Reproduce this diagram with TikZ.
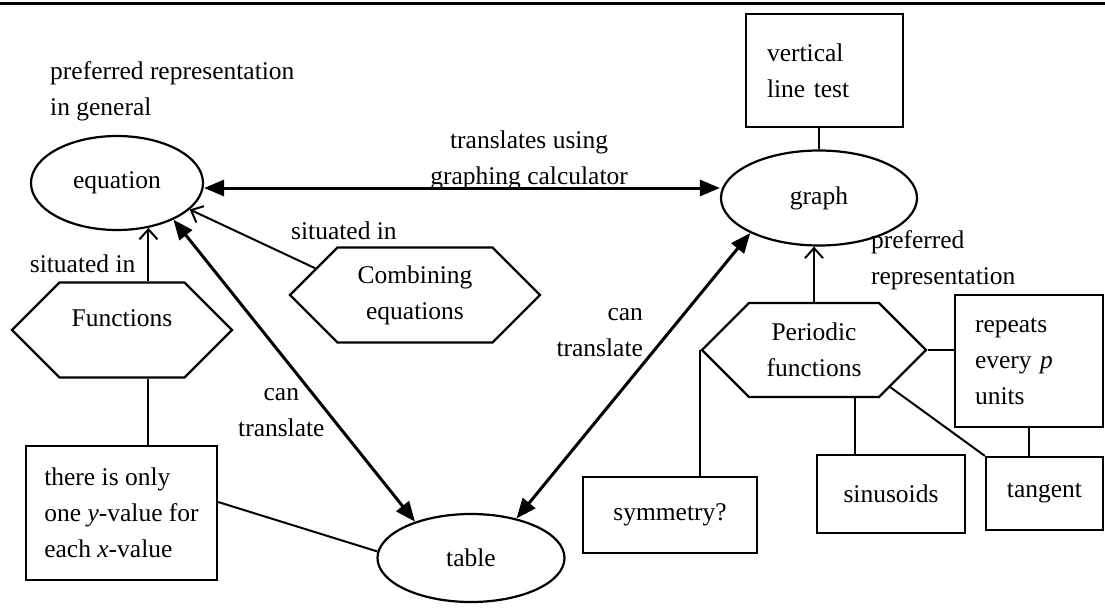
\documentclass[tikz,border=0pt]{standalone}
\usepackage{fontspec}
\setmainfont{Liberation Serif}
\usetikzlibrary{arrows.meta,shapes.geometric,shapes.symbols}

\begin{document}
\begin{tikzpicture}[x=1pt,y=-1pt,
  font=\fontsize{25.5}{36}\selectfont,
  oval/.style={draw,ellipse,line width=2.2pt,inner sep=0pt},
  card/.style={draw,rectangle,line width=2.2pt,inner sep=0pt},
  hexa/.style={draw,signal,signal to=west and east,signal pointer angle=90,line width=2.2pt,inner sep=0pt,align=center},
  link/.style={line width=2pt},
  twoway/.style={line width=3pt,{Triangle[length=20pt,width=16pt]}-{Triangle[length=20pt,width=16pt]}},
  situated/.style={line width=2pt,-{Straight Barb[length=10pt,width=18pt]}},
  lbl/.style={align=center,inner sep=2pt}]
 \useasboundingbox (0,0) rectangle (1105,608);
 \draw[line width=3pt] (0,3) -- (1105,3);

 \node[oval,minimum width=172pt,minimum height=94pt] (equation) at (117,183) {equation};
 \node[oval,minimum width=196pt,minimum height=95pt] (graph) at (819,198) {graph};
 \node[oval,minimum width=187pt,minimum height=88pt] (table) at (471,558) {table};

 \node[card,minimum height=113pt,text width=115pt,inner xsep=21pt,align=left] (vline) at (824.5,70.5) {vertical\\line test};
 \node[card,minimum width=191pt,minimum height=134pt,align=left] (onlyone) at (121.5,513) {there is only\\one \textit{y}-value for\\each \textit{x}-value};
 \node[card,minimum height=132pt,text width=108pt,inner xsep=20pt,align=left] (repeats) at (1029,361) {repeats\\every \textit{p}\\units};
 \node[card,minimum width=117pt,minimum height=73pt] (tangent) at (1044.5,493.5) {tangent};
 \node[card,minimum width=148pt,minimum height=78pt] (sinusoids) at (891,494) {sinusoids};
 \node[card,minimum width=174pt,minimum height=76pt] (symmetry) at (670,515) {symmetry?};

 \node[hexa,minimum width=220pt,minimum height=95pt] (functions) at (122,330) {Functions\\[-12pt]\mbox{}};
 \node[hexa,minimum width=250pt,minimum height=95pt] (combining) at (415,295) {Combining\\equations};
 \node[hexa,minimum width=224pt,minimum height=94pt] (periodic) at (814,350) {Periodic\\functions};

 \node[anchor=west,align=left,inner sep=0pt] (prefgen) at (50,91) {preferred representation\\in general};

 \draw[twoway] ([yshift=-5pt]equation.east) -- node[lbl,pos=0.63,anchor=south,inner sep=0pt,yshift=-3pt] {translates using\\graphing calculator} ([yshift=10pt]graph.west);
 \draw[twoway] (equation.-33) -- node[lbl,pos=0.64,anchor=east] {can\\translate} (table.147);
 \draw[twoway] (table.41) -- node[lbl,pos=0.65,anchor=east,align=right,xshift=-22pt] {can\\translate} (graph.207);

 \draw[situated] (functions.north -| equation.-55) -- node[lbl,pos=0.32,anchor=east,xshift=-10pt] {situated in} (equation.-55);
 \draw[situated] (combining.165) -- node[lbl,pos=0,anchor=south west,xshift=-27pt,yshift=26pt] {situated in} (equation.-20);
 \draw[situated] (periodic.north) -- node[lbl,pos=0.75,anchor=west,align=left,xshift=54pt] {preferred\\representation} (periodic.north |- graph.south);

 \draw[link] ([xshift=26pt]functions.south) -- ([xshift=26pt]functions.south |- onlyone.north);
 \draw[link] ([yshift=11pt]onlyone.east) -- (table.176);
 \draw[link] (vline.south -| graph.north) -- (graph.north);
 \draw[link] (periodic.east) -- (periodic.east -| repeats.west);
 \draw[link] (repeats.south) -- (repeats.south |- tangent.north);
 \draw[link] ([xshift=41pt]periodic.south) -- ([xshift=41pt]periodic.south |- sinusoids.north);
 \draw[link] (periodic.-26) -- (tangent.north west);
 \draw[link] (periodic.west) -- (periodic.west |- symmetry.north);
\end{tikzpicture}
\end{document}
